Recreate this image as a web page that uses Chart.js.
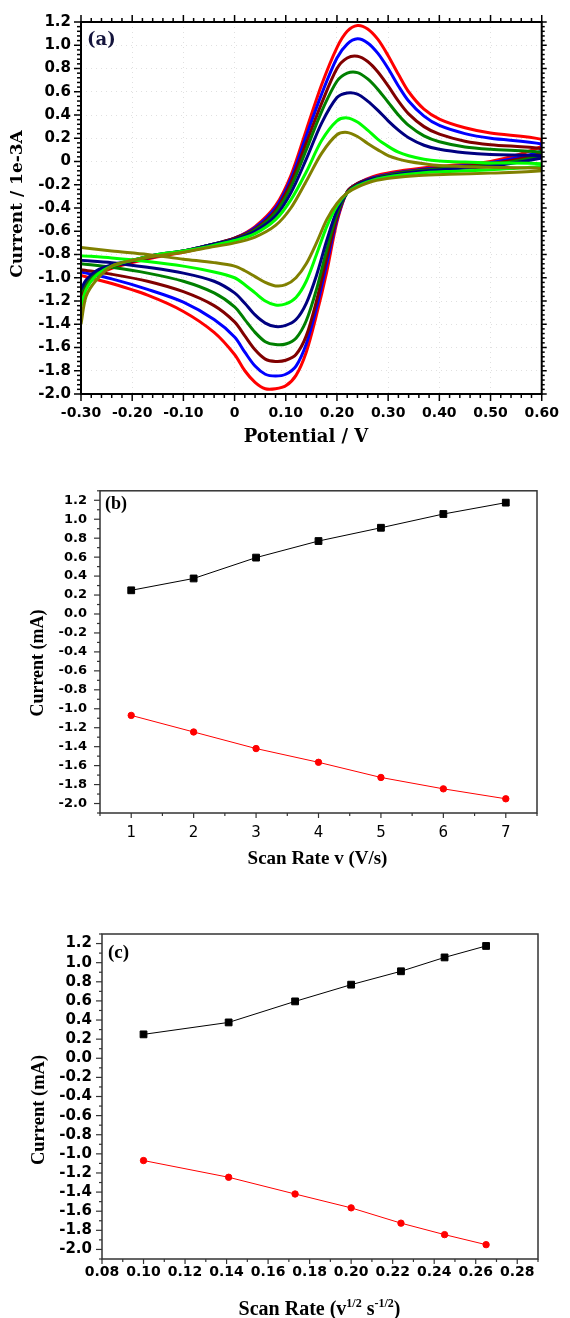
<!DOCTYPE html>
<html>
<head>
<meta charset="utf-8">
<script src="https://cdn.jsdelivr.net/npm/chart.js@4.4.1/dist/chart.umd.min.js"></script>
<style>
  html, body { margin: 0; padding: 0; background: #fff; }
  #wrap { position: relative; width: 570px; height: 1318px; overflow: hidden; }
  canvas { position: absolute; left: 0; }
</style>
</head>
<body>
<div id="wrap">
  <canvas id="cvA" width="570" height="450" style="top:0"></canvas>
  <canvas id="cvB" width="570" height="410" style="top:470px"></canvas>
  <canvas id="cvC" width="570" height="418" style="top:900px"></canvas>
</div>
<script>
// ---------- (a) cyclic voltammograms, one loop per scan rate ----------
// forward (anodic) sweep potentials, V
const potentialFwd = [-0.30, -0.29, -0.27, -0.24, -0.20, -0.15, -0.10, -0.05, 0.00, 0.04, 0.08, 0.11,
  0.14, 0.17, 0.20, 0.22, 0.24, 0.26, 0.28, 0.30, 0.32, 0.34, 0.37, 0.40, 0.45, 0.50, 0.60];
// reverse (cathodic) sweep potentials, V
const potentialRev = [0.60, 0.50, 0.42, 0.36, 0.31, 0.27, 0.24, 0.22, 0.20, 0.18, 0.16, 0.14,
  0.12, 0.10, 0.08, 0.06, 0.04, 0.02, 0.00, -0.04, -0.10, -0.17, -0.24, -0.30];

// currents (1e-3 A)
const fwdOlive  = [-1.40, -1.16, -1.02, -0.90, -0.85, -0.81, -0.78, -0.74, -0.70, -0.65, -0.55, -0.40, -0.17, 0.07, 0.23, 0.25, 0.215, 0.155, 0.10, 0.05, 0.02, 0.00, -0.02, -0.035, -0.045, -0.05, -0.06];
const fwdLime   = [-1.25, -1.10, -0.98, -0.90, -0.85, -0.80, -0.77, -0.73, -0.68, -0.62, -0.50, -0.33, -0.09, 0.18, 0.35, 0.375, 0.34, 0.27, 0.19, 0.13, 0.08, 0.05, 0.02, 0.005, -0.005, -0.012, -0.02];
const fwdNavy   = [-1.10, -1.02, -0.94, -0.89, -0.85, -0.80, -0.77, -0.72, -0.67, -0.60, -0.47, -0.27, 0.02, 0.33, 0.55, 0.59, 0.58, 0.52, 0.44, 0.35, 0.27, 0.205, 0.14, 0.105, 0.075, 0.06, 0.05];
const fwdGreen  = [-1.12, -1.04, -0.95, -0.90, -0.85, -0.80, -0.77, -0.72, -0.67, -0.59, -0.44, -0.22, 0.10, 0.43, 0.69, 0.76, 0.765, 0.71, 0.62, 0.51, 0.40, 0.31, 0.22, 0.17, 0.125, 0.105, 0.08];
const fwdMaroon = [-1.15, -1.06, -0.97, -0.91, -0.86, -0.81, -0.77, -0.72, -0.66, -0.58, -0.42, -0.18, 0.16, 0.50, 0.80, 0.89, 0.905, 0.86, 0.77, 0.65, 0.52, 0.41, 0.30, 0.235, 0.175, 0.145, 0.11];
const fwdBlue   = [-1.13, -1.05, -0.96, -0.90, -0.86, -0.81, -0.77, -0.72, -0.66, -0.57, -0.40, -0.15, 0.22, 0.58, 0.89, 1.01, 1.055, 1.02, 0.93, 0.80, 0.65, 0.52, 0.39, 0.31, 0.24, 0.20, 0.15];
const fwdRed    = [-1.17, -1.08, -0.98, -0.92, -0.87, -0.82, -0.78, -0.73, -0.66, -0.56, -0.38, -0.12, 0.27, 0.66, 0.98, 1.12, 1.17, 1.14, 1.05, 0.91, 0.75, 0.60, 0.45, 0.365, 0.29, 0.245, 0.19];

const revOlive  = [-0.08, -0.10, -0.11, -0.12, -0.14, -0.17, -0.22, -0.27, -0.36, -0.50, -0.70, -0.88, -1.00, -1.06, -1.07, -1.04, -0.99, -0.94, -0.90, -0.87, -0.84, -0.80, -0.77, -0.74];
const revLime   = [-0.04, -0.07, -0.085, -0.10, -0.125, -0.16, -0.21, -0.27, -0.38, -0.56, -0.80, -1.03, -1.17, -1.225, -1.235, -1.20, -1.13, -1.06, -1.00, -0.95, -0.90, -0.86, -0.83, -0.81];
const revNavy   = [0.03, -0.04, -0.065, -0.085, -0.115, -0.15, -0.20, -0.27, -0.42, -0.68, -0.98, -1.22, -1.36, -1.41, -1.42, -1.39, -1.32, -1.22, -1.13, -1.03, -0.96, -0.91, -0.87, -0.85];
const revGreen  = [0.05, -0.03, -0.055, -0.08, -0.11, -0.15, -0.20, -0.27, -0.45, -0.76, -1.10, -1.37, -1.52, -1.57, -1.575, -1.55, -1.47, -1.36, -1.25, -1.13, -1.03, -0.96, -0.91, -0.88];
const revMaroon = [0.07, -0.02, -0.05, -0.075, -0.105, -0.145, -0.19, -0.26, -0.48, -0.83, -1.20, -1.50, -1.66, -1.71, -1.72, -1.70, -1.62, -1.50, -1.38, -1.24, -1.12, -1.03, -0.97, -0.93];
const revBlue   = [0.09, -0.01, -0.045, -0.07, -0.10, -0.14, -0.19, -0.26, -0.50, -0.88, -1.26, -1.57, -1.76, -1.83, -1.845, -1.83, -1.76, -1.64, -1.51, -1.36, -1.21, -1.10, -1.01, -0.95];
const revRed    = [0.13, 0.00, -0.035, -0.06, -0.09, -0.13, -0.19, -0.26, -0.52, -0.95, -1.32, -1.64, -1.84, -1.93, -1.955, -1.955, -1.90, -1.80, -1.66, -1.47, -1.29, -1.15, -1.05, -0.98];

const cvColors = ["#808000", "#00ff00", "#000080", "#008000", "#800000", "#0000ff", "#ff0000"];
const cvFwd = [fwdOlive, fwdLime, fwdNavy, fwdGreen, fwdMaroon, fwdBlue, fwdRed];
const cvRev = [revOlive, revLime, revNavy, revGreen, revMaroon, revBlue, revRed];

const cvPotentialTicks = [-0.30, -0.20, -0.10, 0, 0.10, 0.20, 0.30, 0.40, 0.50, 0.60];
const cvCurrentTicks = [-2.0, -1.8, -1.6, -1.4, -1.2, -1.0, -0.8, -0.6, -0.4, -0.2, 0, 0.2, 0.4, 0.6, 0.8, 1.0, 1.2];

// ---------- (b), (c) peak currents vs scan rate ----------
const scanRate = [1, 2, 3, 4, 5, 6, 7];
const sqrtScanRate = [0.100, 0.141, 0.173, 0.200, 0.224, 0.245, 0.265];
const anodicPeak = [0.25, 0.375, 0.595, 0.77, 0.91, 1.055, 1.175];
const cathodicPeak = [-1.07, -1.245, -1.42, -1.565, -1.725, -1.845, -1.95];

const rateTicks = [1, 2, 3, 4, 5, 6, 7];
const sqrtRateTicks = [0.08, 0.10, 0.12, 0.14, 0.16, 0.18, 0.20, 0.22, 0.24, 0.26, 0.28];
const peakCurrentTicks = [-2.0, -1.8, -1.6, -1.4, -1.2, -1.0, -0.8, -0.6, -0.4, -0.2, 0, 0.2, 0.4, 0.6, 0.8, 1.0, 1.2];

//--------------------------------------------------------
function drawText(ctx, t) {
  ctx.save();
  ctx.translate(t.x, t.y);
  if (t.rot) ctx.rotate(t.rot);
  ctx.fillStyle = t.color || "#000";
  ctx.textBaseline = t.baseline || "middle";
  ctx.textAlign = "left";
  const runs = t.runs || [[t.text, 0]];
  const fontFor = (r) => `bold ${r[1] ? t.size * 0.6 : t.size}px ${t.family}`;
  let w = 0;
  runs.forEach((r) => { ctx.font = fontFor(r); w += ctx.measureText(r[0]).width; });
  let x = t.align === "left" ? 0 : -w / 2;
  runs.forEach((r) => {
    ctx.font = fontFor(r);
    ctx.fillText(r[0], x, r[1] ? -t.size * 0.42 : 0);
    x += ctx.measureText(r[0]).width;
  });
  ctx.restore();
}

// frame, major/minor tick marks and free text for one panel
function makeDecor(cfg) {
  return {
    id: "decor",
    afterDraw(chart) {
      const { ctx, chartArea: a, scales } = chart;
      ctx.save();
      ctx.strokeStyle = cfg.color;
      ctx.lineWidth = cfg.tickWidth;
      cfg.marks.forEach((m) => {
        const sc = scales[m.scale];
        const n0 = Math.ceil(sc.min / m.step - 1e-6);
        const n1 = Math.floor(sc.max / m.step + 1e-6);
        for (let n = n0; n <= n1; n++) {
          const v = n * m.step;
          const r = v / m.major;
          const len = Math.abs(r - Math.round(r)) < 1e-6 ? m.len : m.minorLen;
          const p = sc.getPixelForValue(v);
          ctx.beginPath();
          if (m.side === "left") { ctx.moveTo(a.left, p); ctx.lineTo(a.left - len, p); }
          if (m.side === "right") { ctx.moveTo(a.right, p); ctx.lineTo(a.right + len, p); }
          if (m.side === "top") { ctx.moveTo(p, a.top); ctx.lineTo(p, a.top - len); }
          if (m.side === "bottom") { ctx.moveTo(p, a.bottom); ctx.lineTo(p, a.bottom + len); }
          ctx.stroke();
        }
      });
      ctx.lineWidth = cfg.frameWidth;
      ctx.strokeRect(a.left, a.top, a.right - a.left, a.bottom - a.top);
      cfg.texts.forEach((t) => drawText(ctx, t));
      ctx.restore();
    },
  };
}

const fixTicks = (list) => (scale) => { scale.ticks = list.map((v) => ({ value: v })); };
const fmt = (d, zero) => (v) => (zero && Math.abs(v) < 1e-9 ? zero : Number(v).toFixed(d));

//--------------------------------------------------------
function drawCvChart() {
  const datasets = cvFwd.map((fwd, i) => ({
    data: potentialFwd.map((e, j) => ({ x: e, y: fwd[j] }))
      .concat(potentialRev.map((e, j) => ({ x: e, y: cvRev[i][j] }))),
    showLine: true,
    borderColor: cvColors[i],
    borderWidth: 3,
    pointRadius: 0,
    tension: 0.3,
  }));
  const tickFont = { family: "DejaVu Sans", weight: "bold" };
  const serif = '"DejaVu Serif"';
  new Chart(document.getElementById("cvA"), {
    type: "scatter",
    data: { datasets },
    options: {
      responsive: false,
      animation: false,
      layout: { padding: { top: 22, right: 20, left: 0, bottom: 0 } },
      plugins: { legend: { display: false }, tooltip: { enabled: false } },
      scales: {
        x: {
          min: -0.3, max: 0.6,
          afterBuildTicks: fixTicks(cvPotentialTicks),
          afterFit: (s) => { s.height = 56; },
          ticks: { font: { ...tickFont, size: 14 }, color: "#000", padding: 11, maxRotation: 0, autoSkip: false, callback: fmt(2, "0") },
          grid: { drawTicks: false, color: "#e0e0e0" },
          border: { display: false, dash: [1, 4] },
        },
        y: {
          min: -2.0, max: 1.2,
          afterBuildTicks: fixTicks(cvCurrentTicks),
          afterFit: (s) => { s.width = 81; },
          ticks: { font: { ...tickFont, size: 15 }, color: "#000", padding: 10, autoSkip: false, callback: fmt(1, "0") },
          grid: { drawTicks: false, color: "#e0e0e0" },
          border: { display: false, dash: [1, 4] },
        },
      },
    },
    plugins: [makeDecor({
      color: "#000", tickWidth: 1.5, frameWidth: 2,
      marks: [
        { scale: "y", side: "left", step: 0.04, major: 0.2, len: 7, minorLen: 4 },
        { scale: "y", side: "right", step: 0.04, major: 0.2, len: 5, minorLen: 3 },
        { scale: "x", side: "top", step: 0.02, major: 0.1, len: 7, minorLen: 4 },
        { scale: "x", side: "bottom", step: 0.02, major: 0.1, len: 7, minorLen: 4 },
      ],
      texts: [
        { text: "(a)", x: 87, y: 40, size: 18, family: serif, align: "left", color: "#14143c" },
        { text: "Current / 1e-3A", x: 18, y: 204, rot: -Math.PI / 2, size: 17, family: serif },
        { text: "Potential / V", x: 306, y: 437, size: 18, family: serif },
      ],
    })],
  });
}

//--------------------------------------------------------
function drawPeakChart(id, xs, xTicks, xMin, xMax, layout) {
  const serif = '"Liberation Serif"';
  new Chart(document.getElementById(id), {
    type: "scatter",
    data: {
      datasets: [
        {
          data: xs.map((x, i) => ({ x, y: anodicPeak[i] })),
          showLine: true, borderColor: "#000", borderWidth: 1,
          pointStyle: "rect", pointRadius: 4.8, pointBackgroundColor: "#000", pointBorderColor: "#000", pointBorderWidth: 1,
        },
        {
          data: xs.map((x, i) => ({ x, y: cathodicPeak[i] })),
          showLine: true, borderColor: "#ff0000", borderWidth: 1,
          pointStyle: "circle", pointRadius: 3.2, pointBackgroundColor: "#ff0000", pointBorderColor: "#ff0000", pointBorderWidth: 1,
        },
      ],
    },
    options: {
      responsive: false,
      animation: false,
      layout: { padding: { top: layout.top, right: layout.right, left: 0, bottom: 0 } },
      plugins: { legend: { display: false }, tooltip: { enabled: false } },
      scales: {
        x: {
          min: xMin, max: xMax,
          afterBuildTicks: fixTicks(xTicks),
          afterFit: (s) => { s.height = layout.xHeight; },
          ticks: { font: layout.xFont, color: "#000", padding: layout.xPad, maxRotation: 0, autoSkip: false, callback: layout.xFmt },
          grid: { display: false, drawTicks: false },
          border: { display: false },
        },
        y: {
          min: -2.1, max: 1.3,
          afterBuildTicks: fixTicks(peakCurrentTicks),
          afterFit: (s) => { s.width = layout.yWidth; },
          ticks: { font: layout.yFont, color: "#000", padding: layout.yPad, autoSkip: false, callback: fmt(1) },
          grid: { display: false, drawTicks: false },
          border: { display: false },
        },
      },
    },
    plugins: [makeDecor({
      color: "#333", tickWidth: 1.2, frameWidth: 1.5,
      marks: [
        { scale: "y", side: "left", step: 0.1, major: 0.2, len: 6, minorLen: 3 },
        { scale: "x", side: "bottom", step: layout.xMinor, major: layout.xMajor, len: 5, minorLen: 3 },
      ],
      texts: layout.texts.map((t) => ({ family: serif, ...t })),
    })],
  });
}

drawCvChart();

drawPeakChart("cvB", scanRate, rateTicks, 0.5, 7.5, {
  top: 17, right: 33, xHeight: 67, yWidth: 100, xPad: 11, yPad: 13,
  xFont: { family: "DejaVu Sans", size: 15 },
  yFont: { family: "DejaVu Sans", weight: "bold", size: 13 },
  xFmt: (v) => String(v),
  xMinor: 0.5, xMajor: 1,
  texts: [
    { text: "(b)", x: 105, y: 34.5, size: 18, align: "left" },
    { text: "Current (mA)", x: 38, y: 193, rot: -Math.PI / 2, size: 18 },
    { text: "Scan Rate v (V/s)", x: 317.5, y: 389, size: 19 },
  ],
});

drawPeakChart("cvC", sqrtScanRate, sqrtRateTicks, 0.08, 0.29, {
  top: 34, right: 32, xHeight: 59, yWidth: 102, xPad: 5, yPad: 10,
  xFont: { family: "DejaVu Sans", weight: "bold", size: 14 },
  yFont: { family: "DejaVu Sans", weight: "bold", size: 15 },
  xFmt: fmt(2),
  xMinor: 0.01, xMajor: 0.02,
  texts: [
    { text: "(c)", x: 108, y: 53.5, size: 19, align: "left" },
    { text: "Current (mA)", x: 39, y: 210, rot: -Math.PI / 2, size: 18.5 },
    { runs: [["Scan Rate (v", 0], ["1/2", 1], [" s", 0], ["-1/2", 1], [")", 0]], x: 319.5, y: 415, size: 20, baseline: "alphabetic" },
  ],
});
</script>
</body>
</html>
